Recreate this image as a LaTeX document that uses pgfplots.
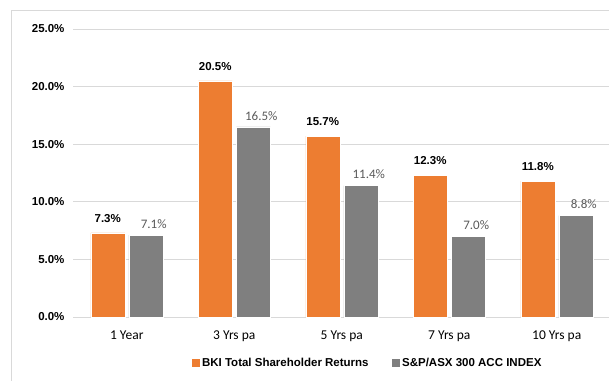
\documentclass[border=0pt]{standalone}
\usepackage{pgfplots}
\pgfplotsset{compat=1.18}
\usepackage{fontspec}
\setmainfont{Liberation Sans}
\newfontfamily\carlito{Carlito}
\definecolor{bkiorange}{HTML}{ED7D31}
\definecolor{idxgray}{HTML}{7F7F7F}
\definecolor{gridc}{HTML}{D9D9D9}
\definecolor{lbl}{HTML}{595959}
\begin{document}
\begin{tikzpicture}[x=1pt,y=1pt]
\useasboundingbox (0,0) rectangle (609,380);
\draw[gridc, line width=1pt] (11,-10) -- (11,369) -- (620,369);
\begin{axis}[
  scale only axis,
  width=537.5pt, height=288pt,
  at={(73pt,63pt)}, anchor=south west,
  ymin=0, ymax=25, ytick={0,5,...,25},
  xmin=-0.5, xmax=4.5,
  xtick={0,1,2,3,4},
  xticklabels={1 Year,3 Yrs pa,5 Yrs pa,7 Yrs pa,10 Yrs pa},
  xticklabel style={font=\carlito\fontsize{13.5}{15}\selectfont, yshift=-10pt},
  yticklabel style={font=\bfseries\fontsize{11.5}{13}\selectfont, xshift=-5pt},
  yticklabel={\pgfmathprintnumber[fixed,fixed zerofill,precision=1]{\tick}\%},
  /pgf/number format/assume math mode=true,
  ymajorgrids, grid style={gridc, line width=0.8pt},
  axis line style={draw=none},
  major tick length=0pt,
  ybar=4pt, bar width=34pt,
  legend columns=2,
  legend style={draw=none, at={(0.547,-0.16)}, anchor=center,
    font=\bfseries\fontsize{11.5}{13}\selectfont,
    /tikz/every even column/.append style={column sep=20pt}},
  legend image code/.code={\fill[#1] (0pt,-4.5pt) rectangle (9pt,4.5pt);},
  clip=false,
]
\addplot[fill=bkiorange, draw=white, line width=0.5pt,
  nodes near coords={\pgfmathprintnumber[fixed,fixed zerofill,precision=1]{\pgfplotspointmeta}\%},
  nodes near coords style={font=\bfseries\fontsize{11.5}{13}\selectfont, text=black, yshift=7pt}]
  coordinates {(0,7.3) (1,20.5) (2,15.7) (3,12.3) (4,11.8)};
\addplot[fill=idxgray, draw=white, line width=0.5pt,
  nodes near coords={\pgfmathprintnumber[fixed,fixed zerofill,precision=1]{\pgfplotspointmeta}\%},
  nodes near coords style={font=\carlito\fontsize{13}{15}\selectfont, text=lbl, xshift=8pt, yshift=3pt}]
  coordinates {(0,7.1) (1,16.5) (2,11.4) (3,7.0) (4,8.8)};
\legend{BKI Total Shareholder Returns, S\&P/ASX 300 ACC INDEX}
\end{axis}
\end{tikzpicture}
\end{document}
